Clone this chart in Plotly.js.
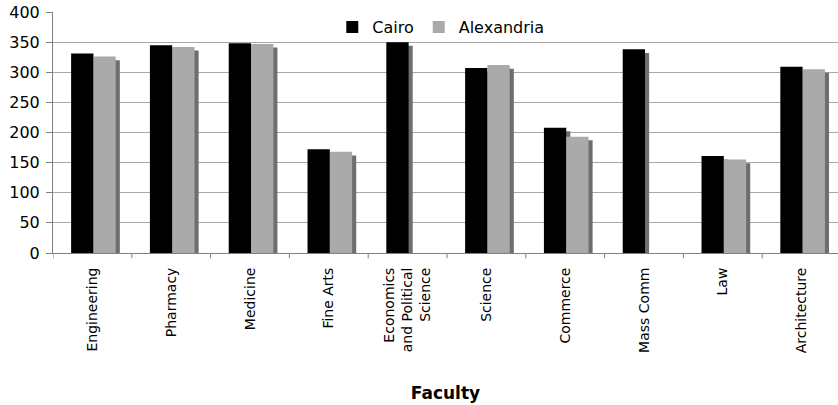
<!DOCTYPE html>
<html>
<head>
<meta charset="utf-8">
<script src="https://cdn.plot.ly/plotly-3.0.1.min.js"></script>
<style>html,body{margin:0;padding:0;background:#fff;}#chart{width:838px;height:405px;}</style>
</head>
<body>
<div id="chart"></div>
<script>
const categories = ["Engineering", "Pharmacy", "Medicine", "Fine Arts", "Economics<br>and Political<br>Science", "Science", "Commerce", "Mass Comm", "Law", "Architecture"];
const cairo = [331, 345, 348, 172, 350, 307, 208, 338, 161, 309];
const alexandria = [326, 342, 347, 168, null, 312, 193, null, 155, 305];
const yTicks = [0, 50, 100, 150, 200, 250, 300, 350, 400];

const idx = categories.map((c, i) => i);
const shadowDrop = 6;
const shade = arr => arr.map(v => v == null ? null : v - shadowDrop);
const barW = 0.283;
const cairoOff = -0.27, alexOff = 0.013, shOff = 0.052;

const traces = [
  {type: 'bar', x: idx, y: shade(cairo), width: barW, offset: cairoOff + shOff, marker: {color: '#6e6e6e', line: {width: 0}}, showlegend: false, hoverinfo: 'skip'},
  {type: 'bar', x: idx, y: shade(alexandria), width: barW, offset: alexOff + shOff, marker: {color: '#6e6e6e', line: {width: 0}}, showlegend: false, hoverinfo: 'skip'},
  {type: 'bar', name: 'Cairo', x: idx, y: cairo, width: barW, offset: cairoOff, marker: {color: '#000000', line: {width: 0}}},
  {type: 'bar', name: 'Alexandria', x: idx, y: alexandria, width: barW, offset: alexOff, marker: {color: '#aaaaaa', line: {width: 0}}}
];

const layout = {
  width: 838, height: 405,
  margin: {l: 53, r: 0, t: 12, b: 152, pad: 0},
  paper_bgcolor: '#fff', plot_bgcolor: '#fff',
  barmode: 'overlay',
  font: {family: 'DejaVu Sans, Verdana, sans-serif', color: '#000'},
  showlegend: true,
  legend: {orientation: 'h', x: 0.494, xanchor: 'center', y: 1.008, yanchor: 'top', font: {size: 16, color: '#000'}, bgcolor: 'rgba(255,255,255,0)', traceorder: 'normal', itemwidth: 30, tracegroupgap: 0},
  xaxis: {
    type: 'linear', range: [-0.5, 9.462],
    tickmode: 'array', tickvals: idx, ticktext: categories,
    tickangle: -90, tickfont: {size: 14, color: '#000'},
    ticks: '', ticklabelstandoff: 8, showgrid: false, zeroline: false,
    showline: true, linecolor: '#808080', linewidth: 1,
    title: {text: '<b>Faculty</b>', font: {size: 17, color: '#000'}, standoff: 34},
    fixedrange: true
  },
  yaxis: {
    range: [0, 400], tickmode: 'array', tickvals: yTicks,
    tickfont: {size: 16, color: '#000'},
    ticks: 'outside', ticklen: 6, tickcolor: '#808080', ticklabelstandoff: 3,
    showgrid: true, gridcolor: '#a8a8a8', gridwidth: 1,
    showline: true, linecolor: '#808080', linewidth: 1,
    zeroline: false, fixedrange: true
  },
  shapes: []
};

// category boundary tick marks on the x axis
for (let i = 0; i <= categories.length; i++) {
  layout.shapes.push({type: 'line', xref: 'x', yref: 'paper', x0: i - 0.5, x1: i - 0.5, y0: 0, y1: -0.022, line: {color: '#808080', width: 1}});
}

Plotly.newPlot('chart', traces, layout, {displayModeBar: false, staticPlot: true});
</script>
</body>
</html>
